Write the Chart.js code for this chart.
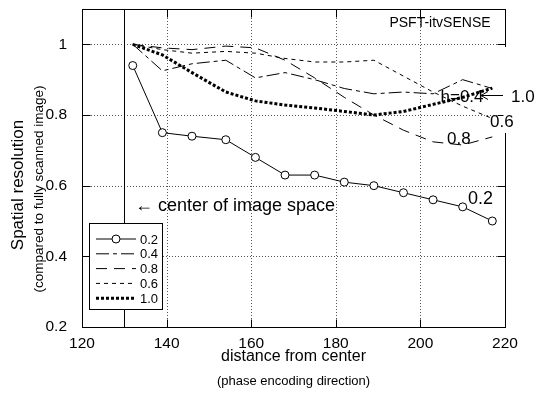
<!DOCTYPE html>
<html>
<head>
<meta charset="utf-8">
<script src="https://cdn.jsdelivr.net/npm/chart.js@4.4.0/dist/chart.umd.min.js"></script>
<style>
  html, body { margin: 0; padding: 0; background: #fff; }
  #wrap { width: 537px; height: 406px; }
</style>
</head>
<body>
<div id="wrap"><canvas id="resChart" width="537" height="406"></canvas></div>
<script>
// distance from center of each sample
const distances = [132, 139, 146, 154, 161, 168, 175, 182, 189, 196, 203, 210, 217];

// spatial resolution, one array per h
const resH02 = [0.94, 0.75, 0.74, 0.73, 0.68, 0.63, 0.63, 0.61, 0.60, 0.58, 0.56, 0.54, 0.50];
const resH04 = [1.0, 0.925, 0.945, 0.955, 0.905, 0.92, 0.90, 0.875, 0.86, 0.865, 0.86, 0.90, 0.875];
const resH08 = [1.0, 0.99, 0.985, 0.995, 0.99, 0.955, 0.905, 0.85, 0.80, 0.757, 0.724, 0.715, 0.738];
const resH06 = [1.0, 0.985, 0.975, 0.98, 0.975, 0.96, 0.95, 0.95, 0.955, 0.91, 0.865, 0.825, 0.79];
const resH10 = [1.0, 0.97, 0.92, 0.865, 0.84, 0.828, 0.82, 0.81, 0.80, 0.81, 0.83, 0.85, 0.876];

const seriesLabels = ['0.2', '0.4', '0.8', '0.6', '1.0'];

// ticks
const xTicks = [120, 140, 160, 180, 200, 220];
const xTickLabels = ['120', '140', '160', '180', '200', '220'];
const yTicks = [0.2, 0.4, 0.6, 0.8, 1.0];
const yTickLabels = ['0.2', '0.4', '0.6', '0.8', '1'];

const centerLine = 130; // "center of image space"

const FONT = "'Liberation Sans', Arial, sans-serif";

function pts(ys) {
  return distances.map((x, i) => ({ x: x, y: ys[i] }));
}

function line(ctx, x1, y1, x2, y2) {
  ctx.beginPath();
  ctx.moveTo(x1, y1);
  ctx.lineTo(x2, y2);
  ctx.stroke();
}

const decor = {
  id: 'decor',
  beforeDatasetsDraw(chart) {
    const { ctx, chartArea: a, scales: { x, y } } = chart;
    ctx.save();
    // dotted grid
    ctx.strokeStyle = '#555';
    ctx.lineWidth = 1;
    ctx.setLineDash([1, 2]);
    xTicks.slice(1, -1).forEach(v => {
      const px = Math.round(x.getPixelForValue(v)) + 0.5;
      line(ctx, px, a.top, px, a.bottom);
    });
    yTicks.slice(1).forEach(v => {
      const py = Math.round(y.getPixelForValue(v)) + 0.5;
      line(ctx, a.left, py, a.right, py);
    });
    ctx.setLineDash([]);
    // center of image space
    ctx.strokeStyle = '#000';
    const cx = Math.round(x.getPixelForValue(centerLine)) + 0.5;
    line(ctx, cx, a.top, cx, a.bottom);
    ctx.restore();
  },
  afterDatasetsDraw(chart) {
    const { ctx, chartArea: a, scales: { x, y } } = chart;
    ctx.save();
    ctx.strokeStyle = '#000';
    ctx.fillStyle = '#000';
    ctx.lineWidth = 1;
    ctx.setLineDash([]);

    // frame
    const L = Math.round(a.left) + 0.5, R = Math.round(a.right) + 0.5;
    const T = Math.round(a.top) + 0.5, B = Math.round(a.bottom) + 0.5;
    ctx.strokeRect(L, T, R - L, B - T);

    // inward ticks
    xTicks.slice(1, -1).forEach(v => {
      const px = Math.round(x.getPixelForValue(v)) + 0.5;
      line(ctx, px, B, px, B - 8);
      line(ctx, px, T, px, T + 8);
    });
    yTicks.slice(1).forEach(v => {
      const py = Math.round(y.getPixelForValue(v)) + 0.5;
      line(ctx, L, py, L + 8, py);
      line(ctx, R, py, R - 8, py);
    });

    // legend box
    const lx = 89.5, ly = 223.5, lw = 73, lh = 86;
    ctx.fillStyle = '#fff';
    ctx.fillRect(lx, ly, lw, lh);
    ctx.strokeRect(lx, ly, lw, lh);
    ctx.font = '13px ' + FONT;
    ctx.textBaseline = 'middle';
    ctx.textAlign = 'left';
    chart.data.datasets.forEach((ds, i) => {
      const yy = 239 + i * 14.8;
      ctx.save();
      ctx.strokeStyle = ds.borderColor;
      ctx.lineWidth = ds.borderWidth;
      ctx.setLineDash(ds.borderDash || []);
      line(ctx, 96, yy, 136, yy);
      ctx.restore();
      if (ds.pointRadius > 0) {
        ctx.beginPath();
        ctx.arc(116, yy, ds.pointRadius, 0, Math.PI * 2);
        ctx.fillStyle = '#fff';
        ctx.fill();
        ctx.stroke();
      }
      ctx.fillStyle = '#000';
      ctx.fillText(ds.label, 140, yy + 1);
    });

    // break in the right frame behind the end labels
    ctx.fillStyle = '#fff';
    ctx.fillRect(R - 2, 47, 6, 86);

    // annotations
    ctx.fillStyle = '#000';
    ctx.font = '14px ' + FONT;
    ctx.textAlign = 'center';
    ctx.fillText('PSFT-itvSENSE', 440, 23);
    ctx.font = '17px ' + FONT;
    ctx.fillText('h=0.4', 462, 97);
    ctx.textAlign = 'left';
    ctx.fillText('1.0', 511, 97);
    ctx.fillText('0.6', 490, 122);
    ctx.fillText('0.8', 447, 139);
    ctx.font = '18px ' + FONT;
    ctx.fillText('0.2', 468, 199);
    ctx.fillText('\u2190 center of image space', 135, 206);

    // arrow to the h=1.0 line
    line(ctx, 503, 95.5, 481, 95.5);
    line(ctx, 481, 95.5, 488, 91.5);
    line(ctx, 481, 95.5, 488, 99.5);

    // axis titles
    ctx.textAlign = 'center';
    ctx.font = '16px ' + FONT;
    ctx.fillText('distance from center', (a.left + a.right) / 2, 357);
    ctx.font = '13px ' + FONT;
    ctx.fillText('(phase encoding direction)', (a.left + a.right) / 2, 381);
    ctx.save();
    ctx.translate(18, 185);
    ctx.rotate(-Math.PI / 2);
    ctx.font = '17px ' + FONT;
    ctx.fillText('Spatial resolution', 0, 0);
    ctx.restore();
    ctx.save();
    ctx.translate(39, 189);
    ctx.rotate(-Math.PI / 2);
    ctx.font = '13.5px ' + FONT;
    ctx.fillText('(compared to fully scanned image)', 0, 0);
    ctx.restore();

    ctx.restore();
  }
};

const ctx = document.getElementById('resChart').getContext('2d');
window.resChart = new Chart(ctx, {
  type: 'line',
  data: {
    datasets: [
      { label: seriesLabels[0], data: pts(resH02), borderColor: '#000', borderWidth: 1, borderDash: [],
        pointRadius: 4, pointBackgroundColor: '#fff', pointBorderColor: '#000', pointBorderWidth: 1 },
      { label: seriesLabels[1], data: pts(resH04), borderColor: '#000', borderWidth: 1, borderDash: [13, 4, 4, 4], pointRadius: 0 },
      { label: seriesLabels[2], data: pts(resH08), borderColor: '#000', borderWidth: 1, borderDash: [11, 7], pointRadius: 0 },
      { label: seriesLabels[3], data: pts(resH06), borderColor: '#000', borderWidth: 1, borderDash: [4, 4], pointRadius: 0 },
      { label: seriesLabels[4], data: pts(resH10), borderColor: '#000', borderWidth: 3, borderDash: [3, 2], pointRadius: 0 }
    ]
  },
  options: {
    responsive: false,
    animation: false,
    layout: { padding: { left: 0, right: 32, top: 9, bottom: 0 } },
    elements: { line: { tension: 0, fill: false } },
    plugins: {
      legend: { display: false },
      tooltip: { enabled: false }
    },
    scales: {
      x: {
        type: 'linear',
        min: 120,
        max: 220,
        grid: { display: false, drawTicks: false },
        border: { display: false },
        afterBuildTicks: s => { s.ticks = xTicks.map(v => ({ value: v })); },
        afterFit: s => { s.height = 79; s.paddingLeft = 0; s.paddingRight = 0; },
        ticks: {
          padding: 7,
          color: '#000',
          font: { family: FONT, size: 15.5 },
          maxRotation: 0,
          callback: (v, i) => xTickLabels[i]
        }
      },
      y: {
        type: 'linear',
        min: 0.2,
        max: 1.1,
        grid: { display: false, drawTicks: false },
        border: { display: false },
        afterBuildTicks: s => { s.ticks = yTicks.map(v => ({ value: v })); },
        afterFit: s => { s.width = 82; s.paddingTop = 0; s.paddingBottom = 0; },
        ticks: {
          padding: 15,
          color: '#000',
          font: { family: FONT, size: 15.5 },
          callback: (v, i) => yTickLabels[i]
        }
      }
    }
  },
  plugins: [decor]
});
</script>
</body>
</html>
